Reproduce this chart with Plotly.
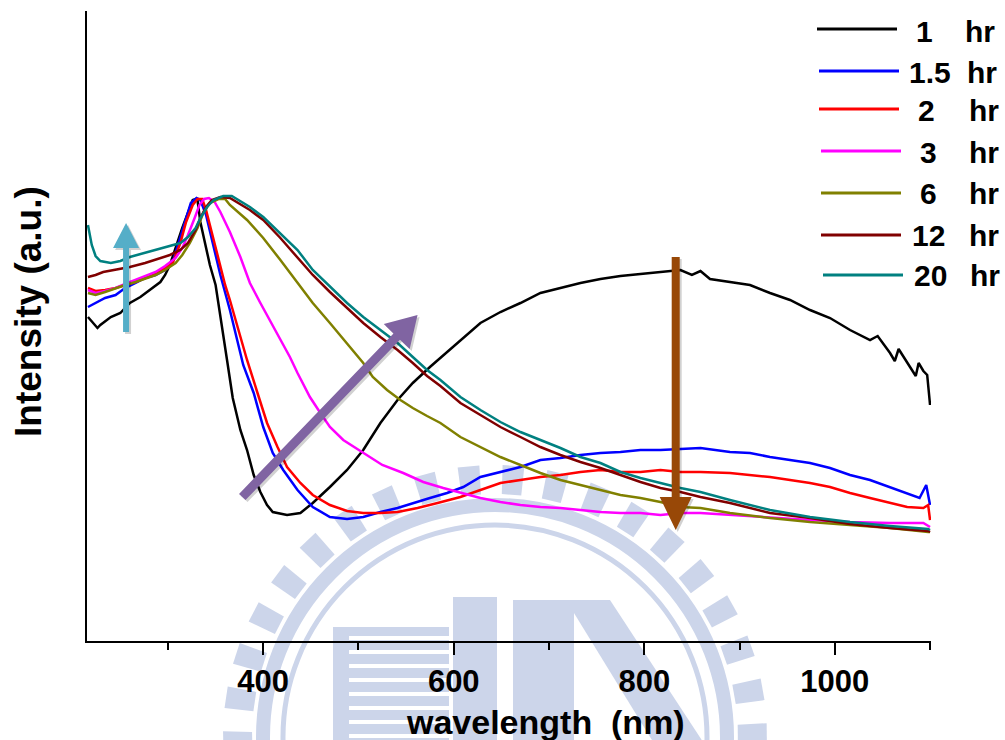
import math
import plotly.graph_objects as go

FONT = "Liberation Sans, Arial, sans-serif"

# ---- spectra: wavelength (nm) and intensity (a.u.) for each reaction time ----
wl_1h = [216, 226, 229, 240, 250, 260, 271, 281, 292, 297, 302, 315, 321, 326, 329, 331,
         334, 339, 344, 350, 355, 362, 368, 376, 383, 390, 397, 404, 410, 425, 439, 452,
         470, 488, 505, 523, 541, 557, 575, 586, 607, 628, 649, 670, 691, 712, 733, 754,
         775, 796, 817, 838, 850, 859, 869, 883, 911, 932, 953, 974, 995, 1016, 1037, 1045,
         1058, 1063, 1067, 1079, 1085, 1088, 1093, 1097, 1100]
int_1h = [3.24, 3.13, 3.16, 3.24, 3.28, 3.38, 3.44, 3.51, 3.59, 3.66, 3.76, 4.13, 4.29, 4.41, 4.42, 4.41,
          4.19, 3.96, 3.76, 3.56, 3.23, 2.81, 2.43, 2.11, 1.91, 1.66, 1.49, 1.36, 1.29, 1.26, 1.28, 1.38,
          1.54, 1.71, 1.91, 2.18, 2.41, 2.58, 2.74, 2.83, 3.01, 3.18, 3.29, 3.38, 3.48, 3.53, 3.58, 3.62,
          3.65, 3.67, 3.69, 3.71, 3.66, 3.70, 3.62, 3.60, 3.56, 3.48, 3.41, 3.31, 3.23, 3.11, 3.01, 3.05,
          2.88, 2.80, 2.92, 2.74, 2.65, 2.78, 2.70, 2.66, 2.36]

wl_15h = [216, 224, 234, 245, 255, 266, 276, 287, 297, 305, 313, 319, 324, 330, 334, 340,
          346, 355, 365, 373, 379, 390, 400, 410, 421, 436, 452, 470, 488, 505, 523, 541,
          557, 575, 593, 610, 628, 649, 670, 691, 712, 733, 754, 775, 796, 817, 838, 859,
          890, 911, 932, 953, 974, 995, 1016, 1037, 1058, 1076, 1089, 1096, 1100]
int_15h = [3.34, 3.38, 3.43, 3.46, 3.53, 3.58, 3.63, 3.66, 3.71, 3.79, 4.03, 4.23, 4.38, 4.43, 4.41, 4.26,
           4.01, 3.66, 3.31, 3.01, 2.76, 2.48, 2.14, 1.88, 1.71, 1.51, 1.34, 1.24, 1.22, 1.24, 1.29, 1.33,
           1.38, 1.43, 1.48, 1.54, 1.64, 1.69, 1.74, 1.81, 1.83, 1.86, 1.88, 1.89, 1.91, 1.91, 1.92, 1.93,
           1.89, 1.88, 1.84, 1.81, 1.78, 1.73, 1.66, 1.61, 1.54, 1.48, 1.43, 1.56, 1.36]

wl_2h = [216, 224, 234, 245, 255, 266, 276, 287, 297, 305, 313, 319, 326, 331, 336, 340,
         344, 352, 360, 365, 376, 383, 394, 404, 415, 425, 439, 452, 470, 488, 505, 523,
         541, 562, 583, 607, 628, 649, 670, 691, 712, 733, 754, 775, 796, 817, 838, 859,
         890, 911, 932, 953, 974, 995, 1016, 1037, 1058, 1076, 1093, 1098, 1100]
int_2h = [3.53, 3.50, 3.51, 3.53, 3.56, 3.59, 3.63, 3.68, 3.73, 3.78, 3.98, 4.19, 4.36, 4.42, 4.42, 4.31,
          4.16, 3.86, 3.56, 3.41, 3.04, 2.81, 2.48, 2.18, 1.94, 1.74, 1.58, 1.46, 1.36, 1.30, 1.28, 1.28,
          1.29, 1.33, 1.38, 1.44, 1.51, 1.58, 1.61, 1.64, 1.66, 1.69, 1.71, 1.69, 1.69, 1.71, 1.69, 1.69,
          1.68, 1.66, 1.64, 1.61, 1.58, 1.54, 1.48, 1.43, 1.38, 1.34, 1.33, 1.36, 1.21]

wl_3h = [216, 224, 234, 245, 255, 266, 276, 287, 297, 308, 315, 321, 328, 333, 338, 343,
         349, 355, 360, 365, 376, 386, 397, 407, 418, 428, 436, 449, 460, 470, 484, 505,
         525, 547, 568, 589, 610, 628, 649, 670, 691, 712, 733, 754, 775, 796, 817, 838,
         859, 890, 932, 974, 1016, 1058, 1093, 1100]
int_3h = [3.51, 3.48, 3.50, 3.53, 3.57, 3.61, 3.65, 3.69, 3.75, 3.83, 3.93, 4.06, 4.23, 4.36, 4.42, 4.43,
          4.39, 4.29, 4.19, 4.09, 3.84, 3.58, 3.38, 3.21, 3.01, 2.84, 2.68, 2.44, 2.28, 2.14, 2.01, 1.88,
          1.76, 1.68, 1.59, 1.53, 1.48, 1.43, 1.39, 1.36, 1.34, 1.33, 1.31, 1.29, 1.28, 1.28, 1.26, 1.28,
          1.28, 1.26, 1.23, 1.21, 1.19, 1.18, 1.18, 1.14]

wl_6h = [216, 224, 234, 245, 255, 266, 276, 287, 297, 308, 315, 323, 331, 337, 344, 353,
         360, 365, 383, 400, 418, 436, 452, 470, 488, 505, 515, 530, 544, 557, 572, 586,
         607, 628, 649, 670, 691, 712, 733, 754, 775, 796, 817, 838, 859, 890, 932, 974,
         1016, 1058, 1098, 1100]
int_6h = [3.48, 3.46, 3.49, 3.53, 3.56, 3.59, 3.62, 3.66, 3.71, 3.78, 3.86, 3.98, 4.13, 4.28, 4.38, 4.42,
          4.42, 4.36, 4.21, 4.03, 3.81, 3.58, 3.38, 3.18, 2.98, 2.78, 2.64, 2.51, 2.41, 2.33, 2.25, 2.18,
          2.04, 1.94, 1.84, 1.76, 1.68, 1.61, 1.56, 1.51, 1.46, 1.43, 1.39, 1.34, 1.33, 1.28, 1.23, 1.19,
          1.16, 1.13, 1.09, 1.09]

wl_12h = [216, 224, 232, 245, 260, 276, 292, 302, 313, 321, 329, 334, 340, 346, 355, 365,
          386, 400, 418, 436, 452, 470, 488, 505, 523, 541, 557, 572, 586, 607, 628, 649,
          670, 691, 712, 733, 754, 775, 796, 817, 838, 859, 890, 932, 974, 1016, 1058, 1098,
          1100]
int_12h = [3.64, 3.66, 3.69, 3.71, 3.74, 3.78, 3.83, 3.86, 3.91, 3.98, 4.11, 4.23, 4.34, 4.41, 4.44, 4.43,
           4.31, 4.21, 4.03, 3.84, 3.66, 3.49, 3.33, 3.18, 3.04, 2.91, 2.78, 2.65, 2.55, 2.38, 2.26, 2.14,
           2.04, 1.94, 1.86, 1.79, 1.73, 1.66, 1.59, 1.53, 1.49, 1.44, 1.38, 1.28, 1.23, 1.17, 1.13, 1.10,
           1.09]

wl_20h = [216, 220, 224, 229, 240, 250, 260, 271, 281, 292, 302, 313, 321, 329, 334, 341,
          348, 358, 367, 386, 400, 418, 436, 452, 470, 488, 505, 523, 541, 557, 572, 586,
          607, 628, 649, 670, 691, 712, 733, 754, 775, 796, 817, 838, 859, 890, 932, 974,
          1016, 1058, 1098, 1100]
int_20h = [4.16, 3.96, 3.85, 3.80, 3.78, 3.80, 3.84, 3.87, 3.89, 3.92, 3.95, 3.98, 4.04, 4.13, 4.23, 4.34,
           4.41, 4.45, 4.45, 4.34, 4.24, 4.08, 3.91, 3.71, 3.54, 3.38, 3.24, 3.11, 2.98, 2.84, 2.71, 2.61,
           2.44, 2.31, 2.19, 2.09, 2.01, 1.93, 1.84, 1.78, 1.69, 1.63, 1.58, 1.53, 1.49, 1.41, 1.31, 1.24,
           1.19, 1.15, 1.12, 1.11]

time_labels = ["1", "1.5", "2", "3", "6", "12", "20"]
series = [(wl_1h, int_1h), (wl_15h, int_15h), (wl_2h, int_2h), (wl_3h, int_3h),
          (wl_6h, int_6h), (wl_12h, int_12h), (wl_20h, int_20h)]
colors = ["#000000", "#0000FF", "#FF0000", "#FF00FF", "#808000", "#800000", "#008080"]

X_RANGE = [215, 1101]
Y_RANGE = [0, 6.30]

# ---- page geometry (pixels) ----
W, H = 1005, 740
L, R, T, B = 87, 74, 11, 99
PW, PH = W - L - R, H - T - B


def px_to_paper(px, py):
    return (px - L) / PW, (H - B - py) / PH


def data_to_px(x, y):
    px = L + (x - X_RANGE[0]) / (X_RANGE[1] - X_RANGE[0]) * PW
    py = (H - B) - (y - Y_RANGE[0]) / (Y_RANGE[1] - Y_RANGE[0]) * PH
    return px, py


def poly_path(points_px):
    pts = [px_to_paper(px, py) for px, py in points_px]
    return "M " + " L ".join(f"{a:.5f},{b:.5f}" for a, b in pts) + " Z"


def arrow_points(p0, p1, shaft_w, head_len, head_w):
    (x0, y0), (x1, y1) = p0, p1
    dx, dy = x1 - x0, y1 - y0
    length = math.hypot(dx, dy)
    ux, uy = dx / length, dy / length
    nx, ny = -uy, ux
    nxk, nyk = x1 - ux * head_len, y1 - uy * head_len
    s, h = shaft_w / 2, head_w / 2
    return [(x0 + nx * s, y0 + ny * s), (nxk + nx * s, nyk + ny * s), (nxk + nx * h, nyk + ny * h),
            (x1, y1), (nxk - nx * h, nyk - ny * h), (nxk - nx * s, nyk - ny * s),
            (x0 - nx * s, y0 - ny * s)]


fig = go.Figure()
for (wl, inten), lab, col in zip(series, time_labels, colors):
    fig.add_trace(go.Scatter(x=wl, y=inten, mode="lines", name=f"{lab} hr",
                             line=dict(color=col, width=2.5), showlegend=False))

shapes = []

# ---- faint university seal behind the plot ----
SEAL = "#CCD5EA"
cx, cy = 495, 737
for r, wdt in [(232, 14), (212, 5)]:
    x0, y0 = px_to_paper(cx - r, cy + r)
    x1, y1 = px_to_paper(cx + r, cy - r)
    shapes.append(dict(type="circle", xref="paper", yref="paper", x0=x0, y0=y0, x1=x1, y1=y1,
                       line=dict(color=SEAL, width=wdt), layer="below"))
ang = 95.6
angles = []
a = ang
while a < 200:
    angles.append(a)
    a += 9.5
a = ang - 9.5
while a > -20:
    angles.append(a)
    a -= 9.5
for a in angles:
    pts = []
    for rr, da in [(243, -2.3), (272, -2.3), (272, 2.3), (243, 2.3)]:
        t = math.radians(a + da)
        pts.append((cx + rr * math.cos(t), cy - rr * math.sin(t)))
    shapes.append(dict(type="path", xref="paper", yref="paper", path=poly_path(pts),
                       fillcolor=SEAL, line=dict(width=0), layer="below"))


def rect_px(x0, y0, x1, y1, color):
    a0, b0 = px_to_paper(x0, y1)
    a1, b1 = px_to_paper(x1, y0)
    return dict(type="rect", xref="paper", yref="paper", x0=a0, y0=b0, x1=a1, y1=b1,
                fillcolor=color, line=dict(width=0), layer="below")


# building block with stripes, letter columns and diagonal band
shapes.append(rect_px(333, 627, 449, 745, SEAL))
for yy in range(636, 745, 14):
    shapes.append(rect_px(349, yy, 449, yy + 4, "white"))
shapes.append(rect_px(453, 597, 497, 745, SEAL))
shapes.append(rect_px(513, 600, 574, 745, SEAL))
shapes.append(dict(type="path", xref="paper", yref="paper",
                   path=poly_path([(566, 600), (610, 600), (705, 745), (655, 745)]),
                   fillcolor=SEAL, line=dict(width=0), layer="below"))

# ---- annotation arrows ----
arrows = [
    ((256, 3.09), (256, 4.18), 6, 25, 26, "#55AEC8"),
    ((378, 1.44), (562, 3.26), 9, 30, 36, "#8064A2"),
    ((833, 3.84), (833, 1.11), 8, 33, 32, "#984807"),
]
for p0, p1, sw, hl, hw, col in arrows:
    a0 = data_to_px(*p0)
    a1 = data_to_px(*p1)
    pts = arrow_points(a0, a1, sw, hl, hw)
    shadow = [(x + 2, y + 2) for x, y in pts]
    shapes.append(dict(type="path", xref="paper", yref="paper", path=poly_path(shadow),
                       fillcolor="rgba(0,0,0,0.18)", line=dict(width=0), layer="above"))
    shapes.append(dict(type="path", xref="paper", yref="paper", path=poly_path(pts),
                       fillcolor=col, line=dict(width=0), layer="above"))

# ---- legend ----
annotations = []
leg_lines = [(817, 897, 29), (819, 899, 71), (819, 899, 109), (821, 901, 151),
             (821, 901, 193), (821, 901, 235), (823, 903, 275)]
num_x = [924, 930, 926, 928, 928, 928, 930]
hr_x = [963, 965, 967, 967, 967, 967, 968]
txt_y = [31, 72, 110, 152, 194, 236, 276]
for (lx0, lx1, ly), col, lab, nx, hx, ty in zip(leg_lines, colors, time_labels, num_x, hr_x, txt_y):
    a0, b0 = px_to_paper(lx0, ly)
    a1, _ = px_to_paper(lx1, ly)
    shapes.append(dict(type="line", xref="paper", yref="paper", x0=a0, y0=b0, x1=a1, y1=b0,
                       line=dict(color=col, width=3)))
    ax, ay = px_to_paper(nx, ty)
    annotations.append(dict(text=lab, x=ax, y=ay, xref="paper", yref="paper", showarrow=False,
                            xanchor="center", yanchor="middle",
                            font=dict(family=FONT, size=30, color="black", weight="bold")))
    hx_p, _ = px_to_paper(hx, ty)
    annotations.append(dict(text="hr", x=hx_p, y=ay, xref="paper", yref="paper", showarrow=False,
                            xanchor="left", yanchor="middle",
                            font=dict(family=FONT, size=30, color="black", weight="bold")))

# ---- axis titles ----
tx, ty = px_to_paper(545, 722)
annotations.append(dict(text="wavelength\u00a0 (nm)", x=tx, y=ty, xref="paper", yref="paper",
                        showarrow=False, xanchor="center", yanchor="middle",
                        font=dict(family=FONT, size=34, color="black", weight="bold")))
tx, ty = px_to_paper(28, 312)
annotations.append(dict(text="Intensity (a.u.)", x=tx, y=ty, xref="paper", yref="paper",
                        showarrow=False, xanchor="center", yanchor="middle", textangle=-90,
                        font=dict(family=FONT, size=37, color="black", weight="bold")))

fig.update_layout(
    width=W, height=H,
    margin=dict(l=L, r=R, t=T, b=B, pad=0),
    paper_bgcolor="white", plot_bgcolor="rgba(0,0,0,0)",
    shapes=shapes, annotations=annotations,
    showlegend=False,
    xaxis=dict(range=X_RANGE, showline=True, linecolor="black", linewidth=2, mirror=False,
               showgrid=False, zeroline=False, ticks="outside", ticklen=12, tickwidth=2,
               tickcolor="black", tick0=0, dtick=200,
               tickfont=dict(family=FONT, size=31, color="black", weight="bold"),
               minor=dict(ticks="outside", ticklen=7, tickwidth=2, tickcolor="black",
                          dtick=100, showgrid=False)),
    yaxis=dict(range=Y_RANGE, showline=True, linecolor="black", linewidth=2, mirror=False,
               showgrid=False, zeroline=False, ticks="", showticklabels=False),
)

fig.write_html("out.html")
